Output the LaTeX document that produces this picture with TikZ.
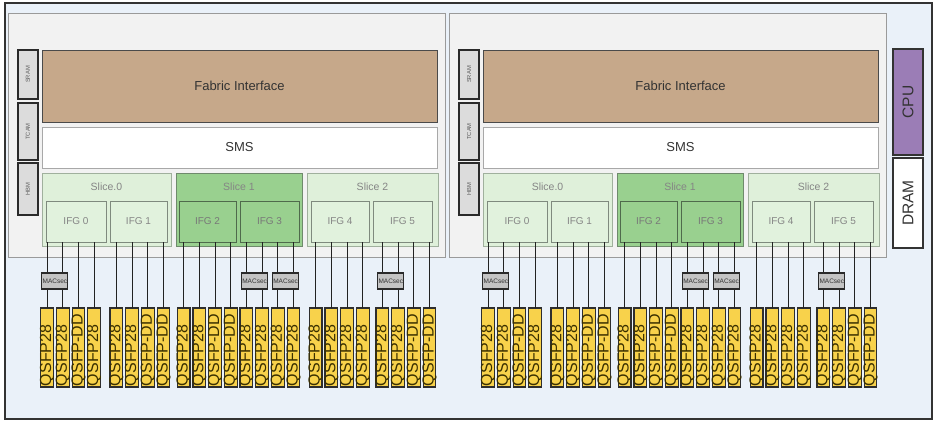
\documentclass[tikz,border=0pt]{standalone}
\usepackage{fontspec}
\setmainfont{Liberation Sans}
\usetikzlibrary{calc}
\definecolor{outerbg}{HTML}{EAF1F9}
\definecolor{outerline}{HTML}{333333}
\definecolor{chipbg}{HTML}{F2F2F2}
\definecolor{chipline}{HTML}{9A9A9A}
\definecolor{memfill}{HTML}{DCDCDC}
\definecolor{memline}{HTML}{2A2A2A}
\definecolor{fabfill}{HTML}{C6A88A}
\definecolor{fabline}{HTML}{4A4A4A}
\definecolor{smsline}{HTML}{A8A8A8}
\definecolor{sllt}{HTML}{DFF0DA}
\definecolor{sllline}{HTML}{A0B09D}
\definecolor{sldk}{HTML}{99D08F}
\definecolor{sldline}{HTML}{6F8A6C}
\definecolor{ifglt}{HTML}{E1F2DD}
\definecolor{ifglline}{HTML}{7F8A7E}
\definecolor{ifgdline}{HTML}{4F6A4C}
\definecolor{macfill}{HTML}{C4C4C4}
\definecolor{portfill}{HTML}{F8D24B}
\definecolor{portline}{HTML}{2E2E2E}
\definecolor{porttext}{HTML}{3A3000}
\definecolor{cpufill}{HTML}{9B7DB6}
\definecolor{darktext}{HTML}{333333}
\definecolor{greytext}{HTML}{858585}
\definecolor{wirecol}{HTML}{222222}
\tikzset{
  base/.style={rectangle, inner sep=0pt, outer sep=0pt},
  outerbox/.style={base, draw=outerline, line width=1.6pt, fill=outerbg},
  chipbox/.style={base, draw=chipline, line width=0.9pt, fill=chipbg},
  membox/.style={base, draw=memline, line width=1.3pt, fill=memfill, rotate=90, text=darktext!80, font=\fontsize{5.8}{6}\selectfont},
  fabbox/.style={base, draw=fabline, line width=1pt, fill=fabfill, text=darktext, font=\fontsize{13}{13}\selectfont},
  smsbox/.style={base, draw=smsline, line width=0.9pt, fill=white, text=darktext, font=\fontsize{13}{13}\selectfont},
  slicelt/.style={base, draw=sllline, line width=0.9pt, fill=sllt},
  slicedk/.style={base, draw=sldline, line width=0.9pt, fill=sldk},
  slicetxt/.style={base, text=greytext, font=\fontsize{10.5}{10.5}\selectfont},
  ifgl/.style={base, draw=ifglline, line width=0.9pt, fill=ifglt, minimum height=41pt, text=greytext, font=\fontsize{10}{10}\selectfont},
  ifgd/.style={base, draw=ifgdline, line width=0.9pt, fill=sldk, minimum height=41pt, text=greytext!90!black, font=\fontsize{10}{10}\selectfont},
  portbox/.style={base, draw=portline, line width=1.1pt, fill=portfill, minimum width=12.7pt, minimum height=79pt},
  porttxt/.style={base, rotate=90, anchor=west, text=porttext, font=\fontsize{16}{16}\selectfont},
  macbox/.style={base, draw=memline, line width=1.1pt, fill=macfill, minimum width=26pt, minimum height=16pt, text=darktext, font=\fontsize{6.5}{6.5}\selectfont},
  wire/.style={draw=wirecol, line width=0.9pt},
  sidebox/.style={base, draw=outerline, line width=1.3pt, rotate=90, text=darktext, font=\fontsize{15.5}{15.5}\selectfont},
}
\newcommand\chipdraw[1]{%
  \node[chipbox, minimum width=437pt, minimum height=244pt] (#1chip) at (226.5,135) {};
  \node[membox, minimum width=49pt, minimum height=20pt] (#1sram) at (28,74.5) {SRAM};
  \node[membox, minimum width=57pt, minimum height=20pt] (#1tcam) at (28,131.5) {TCAM};
  \node[membox, minimum width=52pt, minimum height=20pt] (#1hbm) at (28,189) {HBM};
  \node[fabbox, minimum width=395pt, minimum height=72pt] (#1fab) at (239.5,86) {Fabric Interface};
  \node[smsbox, minimum width=395pt, minimum height=41pt] (#1sms) at (239.5,147.5) {SMS};
  \node[slicelt, minimum width=129pt, minimum height=73pt] (#1s0) at (106.5,209.5) {};
  \node[slicedk, minimum width=126pt, minimum height=73pt] (#1s1) at (239,209.5) {};
  \node[slicelt, minimum width=131pt, minimum height=73pt] (#1s2) at (372.5,209.5) {};
  \node[slicetxt] (#1s0t) at (106.5,187) {Slice.0};
  \node[slicetxt] (#1s1t) at (239,187) {Slice 1};
  \node[slicetxt] (#1s2t) at (372.5,187) {Slice 2};
  \node[ifgl, minimum width=60pt] (#1ifg0) at (76,221.5) {IFG 0};
  \node[ifgl, minimum width=57pt] (#1ifg1) at (138.5,221.5) {IFG 1};
  \node[ifgd, minimum width=57pt] (#1ifg2) at (207.5,221.5) {IFG 2};
  \node[ifgd, minimum width=59pt] (#1ifg3) at (269.5,221.5) {IFG 3};
  \node[ifgl, minimum width=58pt] (#1ifg4) at (340,221.5) {IFG 4};
  \node[ifgl, minimum width=59pt] (#1ifg5) at (402.5,221.5) {IFG 5};
  \foreach \g/\sx/\la/\lb/\lc/\ld in {0/40.7/QSFP28/QSFP28/QSFP-DD/QSFP28,
      1/110/QSFP28/QSFP28/QSFP-DD/QSFP-DD,
      2/177.3/QSFP28/QSFP28/QSFP-DD/QSFP-DD,
      3/240/QSFP28/QSFP28/QSFP28/QSFP28,
      4/309.3/QSFP28/QSFP28/QSFP28/QSFP28,
      5/376/QSFP28/QSFP28/QSFP-DD/QSFP-DD} {
    \foreach \k/\lab in {0/\la,1/\lb,2/\lc,3/\ld} {
      \pgfmathsetmacro\pcx{\sx+15.7*\k+6.35}
      \node[portbox] (#1p\g\k) at (\pcx,347.5) {};
      \node[porttxt] (#1t\g\k) at ([yshift=1pt]#1p\g\k.south) {\lab};
      \draw[wire] (#1p\g\k.north) -- (#1p\g\k.north |- #1ifg\g.south);
    }
  }
  \node[macbox] (#1m0) at (54.9,281) {MACsec};
  \node[macbox] (#1m1) at (254.6,281) {MACsec};
  \node[macbox] (#1m2) at (285.6,281) {MACsec};
  \node[macbox] (#1m3) at (390.8,281) {MACsec};
}
\begin{document}
\begin{tikzpicture}[x=1pt,y=-1pt]
  \useasboundingbox (0,0) rectangle (936,426);
  \node[outerbox, minimum width=927pt, minimum height=416pt] (outer) at (468.5,211) {};
  \begin{scope}
    \chipdraw{L}
  \end{scope}
  \begin{scope}[xshift=441pt]
    \chipdraw{R}
  \end{scope}
  \node[sidebox, fill=cpufill, minimum width=106pt, minimum height=30pt] (cpu) at (908,102) {CPU};
  \node[sidebox, fill=white, minimum width=90pt, minimum height=30pt] (dram) at (908,203) {DRAM};
\end{tikzpicture}
\end{document}
